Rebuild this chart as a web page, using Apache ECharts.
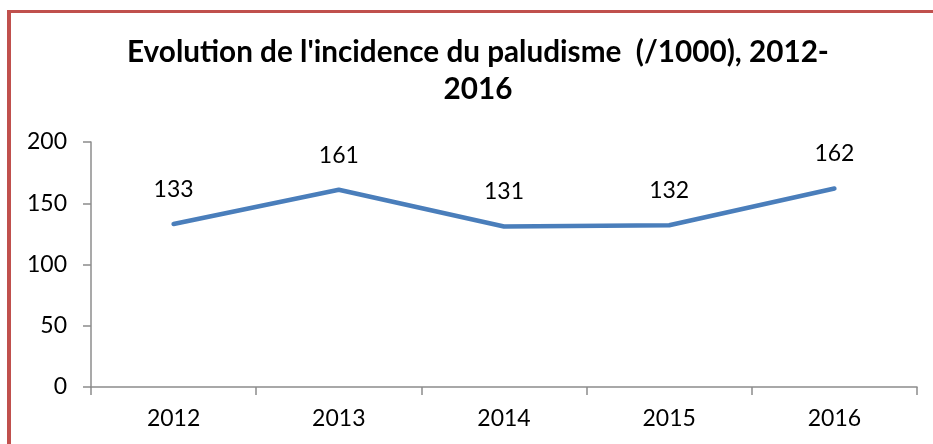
<!DOCTYPE html>
<html><head><meta charset="utf-8">
<script src="https://cdn.jsdelivr.net/npm/echarts@6/dist/echarts.min.js"></script>
<style>html,body{margin:0;padding:0;background:#fff}#c{width:933px;height:444px}</style>
</head><body><div id="c"></div>
<script>
var titleText = "Evolution de l'incidence du paludisme  (/1000), 2012-\n2016";
var years = ['2012','2013','2014','2015','2016'];
var incidence = [133,161,131,132,162];
var yTicks = {min:0, max:200, interval:50};

var chart = echarts.init(document.getElementById('c'), null, {renderer:'canvas'});
var font = 'Lato, "Open Sans", sans-serif';
chart.setOption({
  animation:false,
  graphic:[
    {type:'rect', shape:{x:7,y:10,width:940,height:3}, style:{fill:'#c0504d'}, silent:true},
    {type:'rect', shape:{x:7,y:10,width:4,height:440}, style:{fill:'#c0504d'}, silent:true}
  ],
  title:{
    text:titleText, left:473, top:29, textAlign:'center',
    textStyle:{fontFamily:font, fontWeight:'bold', fontSize:29.7, color:'#000', lineHeight:37}
  },
  grid:{left:91, right:16, top:142, bottom:57, containLabel:false},
  xAxis:{
    type:'category', data:years, boundaryGap:true,
    axisLine:{lineStyle:{color:'#8c8c8c', width:1.5}},
    axisTick:{show:true, length:8, inside:false, alignWithLabel:false, lineStyle:{color:'#8c8c8c', width:1.5}},
    axisLabel:{fontFamily:font, fontSize:23, color:'#000', margin:20}
  },
  yAxis:{
    type:'value', min:yTicks.min, max:yTicks.max, interval:yTicks.interval,
    axisLine:{show:true, lineStyle:{color:'#8c8c8c', width:1.5}},
    axisTick:{show:true, length:8, lineStyle:{color:'#8c8c8c', width:1.5}},
    splitLine:{show:false},
    axisLabel:{fontFamily:font, fontSize:23, color:'#000', margin:24}
  },
  series:[{
    type:'line', data:incidence, symbol:'circle', symbolSize:2, showSymbol:true,
    itemStyle:{color:'rgba(74,126,187,0)'},
    lineStyle:{color:'#4a7ebb', width:4.5, cap:'round'},
    labelLayout:{hideOverlap:false},
    label:{show:true, position:'top', distance:22, fontFamily:font, fontSize:23, color:'#000', opacity:1}
  }]
});
</script></body></html>
